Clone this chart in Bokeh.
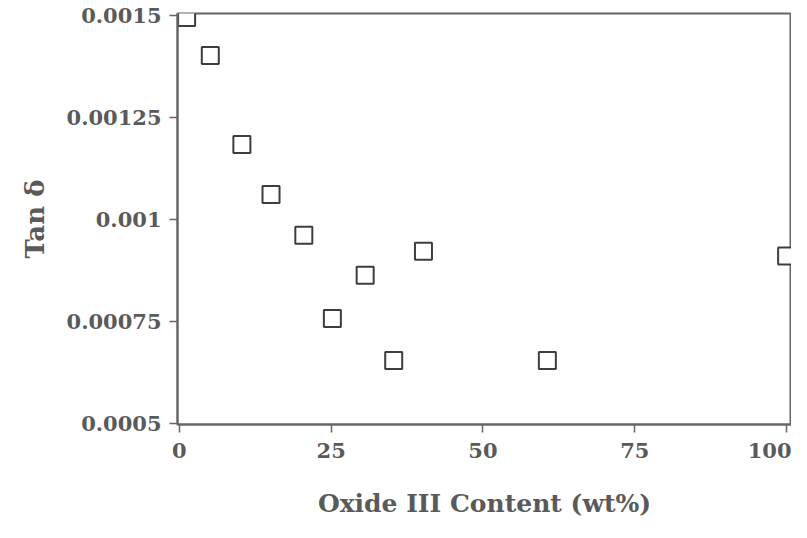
from bokeh.plotting import figure
from bokeh.models import Range1d, FixedTicker
from bokeh.embed import file_html
from bokeh.resources import INLINE

# Data
oxide_content = [1.2, 5.1, 10.3, 15.1, 20.5, 25.2, 30.6, 35.3, 40.2, 60.6, 100.0]
tan_delta = [0.001495, 0.001402, 0.001184, 0.001061, 0.000961, 0.000757,
             0.000863, 0.000654, 0.000922, 0.000654, 0.000910]

x_ticks = [0, 25, 50, 75, 100]
y_ticks = [0.0005, 0.00075, 0.001, 0.00125, 0.0015]
y_tick_labels = ["0.0005", "0.00075", "0.001", "0.00125", "0.0015"]

FONT = "DejaVu Serif"
GREY = "#5a5a5a"

p = figure(width=791, height=522, output_backend="svg", toolbar_location=None,
           x_range=Range1d(-0.3, 100.8), y_range=Range1d(0.000497, 0.001505),
           min_border_left=177, min_border_right=0, min_border_top=13,
           min_border_bottom=98)

p.scatter(oxide_content, tan_delta, marker="square", size=17,
          fill_color="white", line_color="#3d3d3d", line_width=2)

p.xgrid.visible = False
p.ygrid.visible = False
p.outline_line_color = "#666666"
p.outline_line_width = 2
p.background_fill_color = "white"
p.border_fill_color = "white"

for ax in (p.xaxis[0], p.yaxis[0]):
    ax.axis_line_color = "#666666"
    ax.axis_line_width = 2
    ax.major_tick_line_color = "#666666"
    ax.major_tick_line_width = 1.5
    ax.major_tick_in = 0
    ax.major_tick_out = 8
    ax.minor_tick_line_color = None
    ax.major_label_text_font = FONT
    ax.major_label_text_color = GREY
    ax.major_label_text_font_style = "bold"
    ax.axis_label_text_font = FONT
    ax.axis_label_text_color = GREY
    ax.axis_label_text_font_style = "bold"

p.xaxis.ticker = FixedTicker(ticks=x_ticks)
p.xaxis.major_label_text_font_size = "21px"
p.xaxis.major_label_standoff = 10
p.xaxis.axis_label = "Oxide III Content (wt%)"
p.xaxis.axis_label_text_font_size = "25px"
p.xaxis.axis_label_standoff = 28

p.yaxis.ticker = FixedTicker(ticks=y_ticks)
p.yaxis.major_label_overrides = dict(zip(y_ticks, y_tick_labels))
p.yaxis.major_label_text_font_size = "21px"
p.yaxis.major_label_standoff = 8
p.yaxis.axis_label = "Tan δ"
p.yaxis.axis_label_text_font_size = "26px"
p.yaxis.axis_label_standoff = 14

open("out.html", "w").write(file_html(p, INLINE))
